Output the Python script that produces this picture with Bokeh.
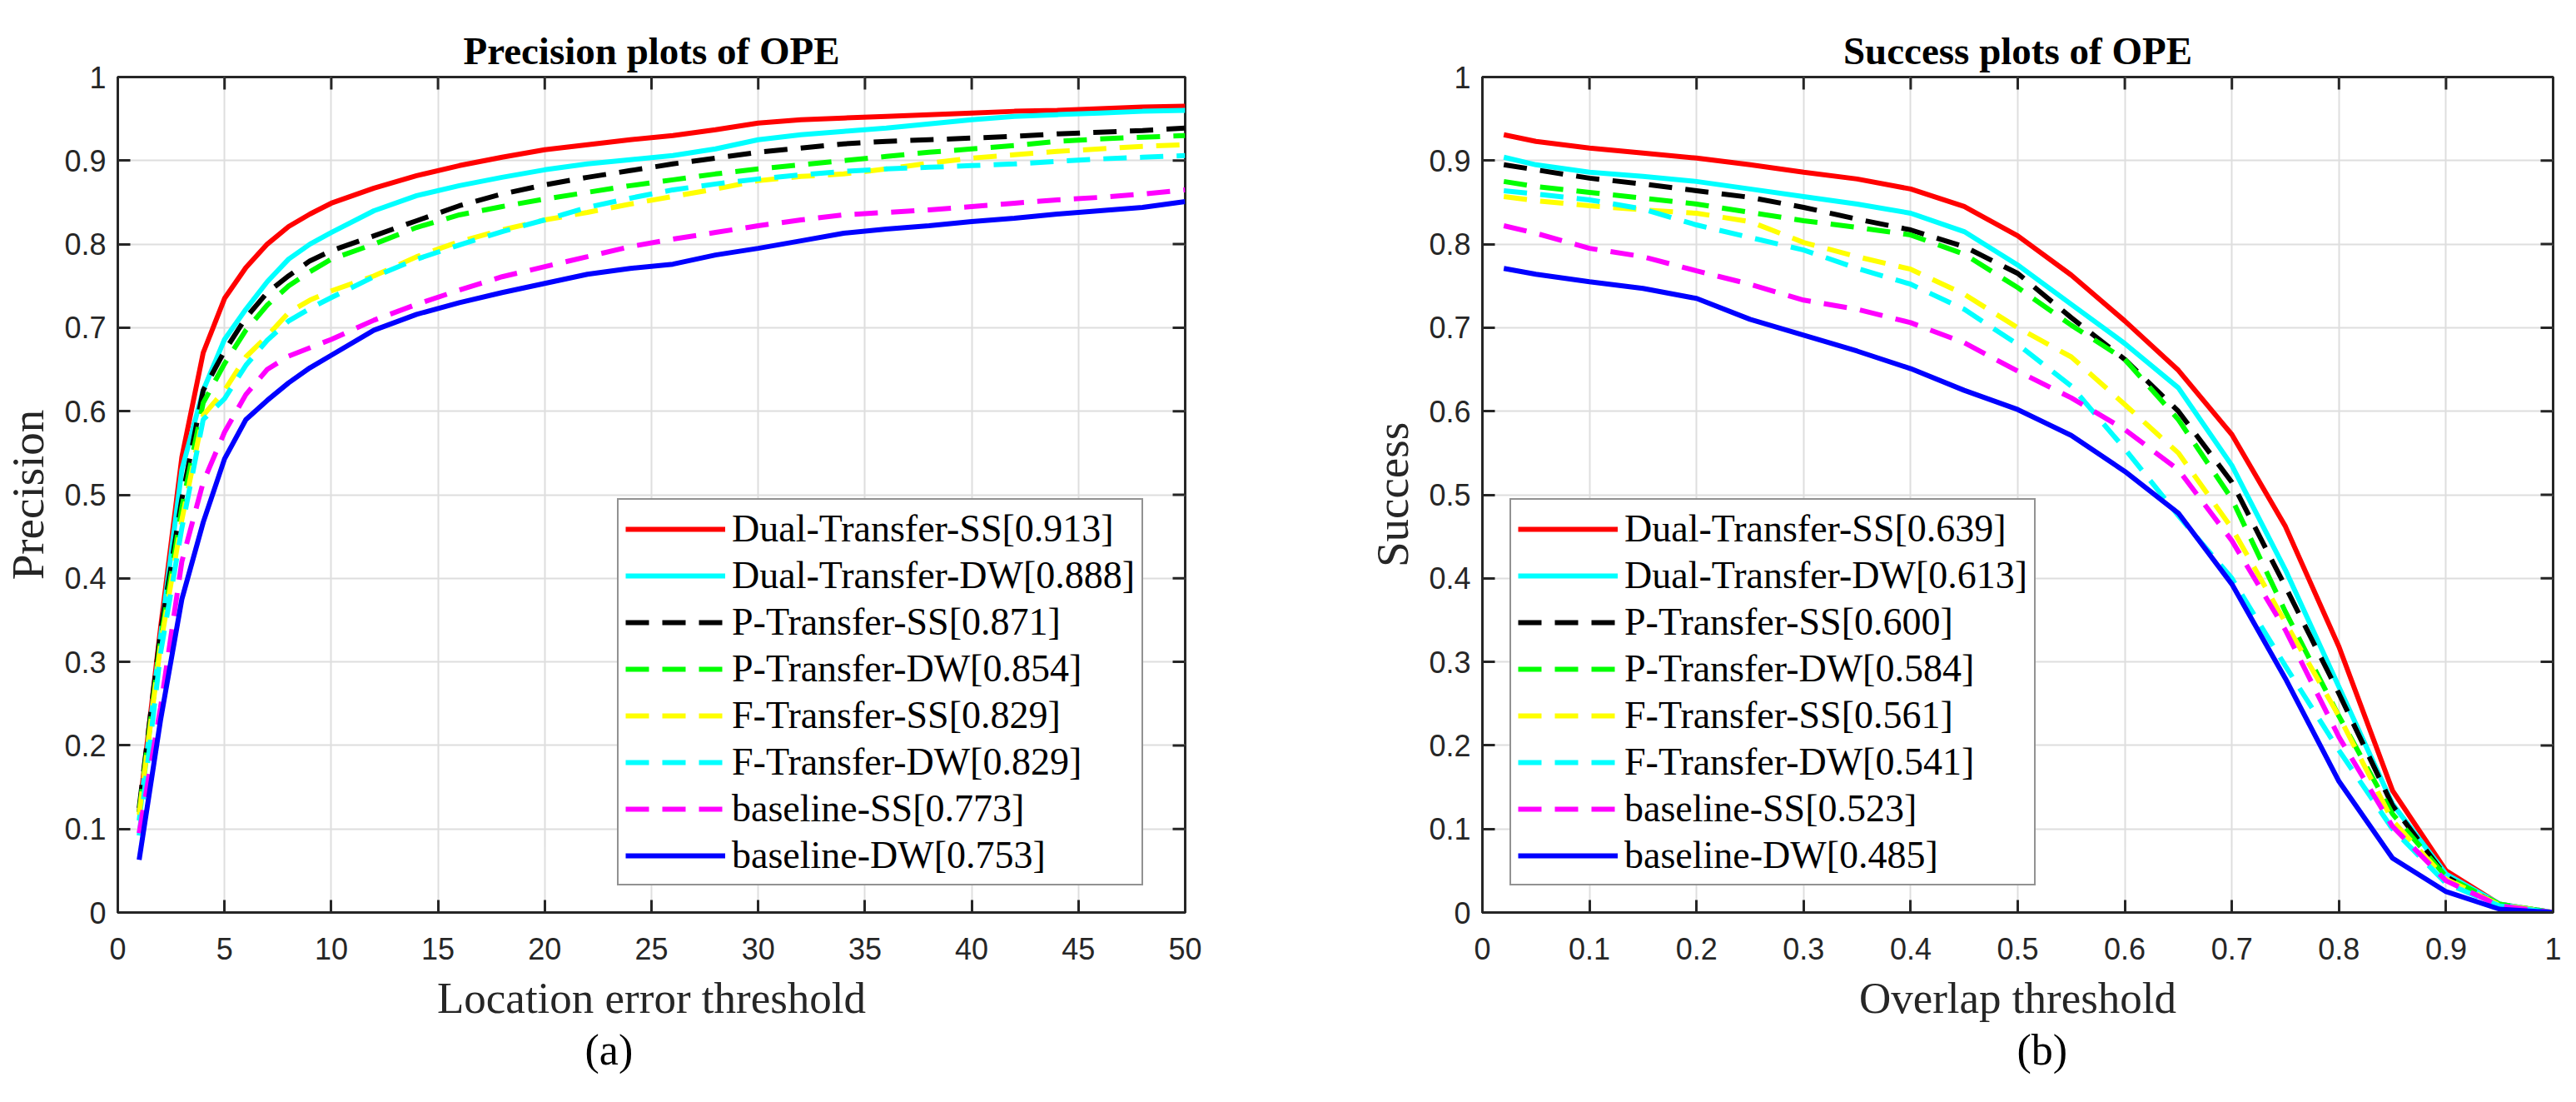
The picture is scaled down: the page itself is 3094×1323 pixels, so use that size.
from bokeh.plotting import figure
from bokeh.models import (FixedTicker, Legend, LegendItem, Title,
                          Range1d, CustomJSTickFormatter)
from bokeh.layouts import row
from bokeh.embed import file_html
from bokeh.resources import INLINE

# ---------------- data ----------------
labels_prec = ["Dual-Transfer-SS[0.913]", "Dual-Transfer-DW[0.888]", "P-Transfer-SS[0.871]",
               "P-Transfer-DW[0.854]", "F-Transfer-SS[0.829]", "F-Transfer-DW[0.829]",
               "baseline-SS[0.773]", "baseline-DW[0.753]"]
labels_succ = ["Dual-Transfer-SS[0.639]", "Dual-Transfer-DW[0.613]", "P-Transfer-SS[0.600]",
               "P-Transfer-DW[0.584]", "F-Transfer-SS[0.561]", "F-Transfer-DW[0.541]",
               "baseline-SS[0.523]", "baseline-DW[0.485]"]

prec_x = [1, 2, 3, 4, 5, 6, 7, 8, 9, 10, 12, 14, 16, 18, 20, 22, 24, 26, 28, 30,
          32, 34, 36, 38, 40, 42, 44, 46, 48, 50]
prec_dual_ss = [0.12, 0.34, 0.545, 0.67, 0.735, 0.772, 0.80, 0.821, 0.836, 0.849, 0.867, 0.882,
                0.894, 0.904, 0.913, 0.919, 0.925, 0.930, 0.937, 0.945, 0.949, 0.951, 0.953,
                0.955, 0.957, 0.959, 0.960, 0.962, 0.964, 0.965]
prec_dual_dw = [0.11, 0.33, 0.53, 0.625, 0.686, 0.722, 0.755, 0.782, 0.80, 0.814, 0.84, 0.858,
                0.870, 0.88, 0.889, 0.896, 0.901, 0.906, 0.914, 0.925, 0.931, 0.935, 0.939,
                0.944, 0.949, 0.953, 0.955, 0.957, 0.959, 0.960]
prec_p_ss = [0.125, 0.335, 0.495, 0.625, 0.672, 0.712, 0.742, 0.762, 0.78, 0.792, 0.81, 0.828,
             0.846, 0.86, 0.871, 0.88, 0.888, 0.896, 0.903, 0.91, 0.915, 0.92, 0.923, 0.925,
             0.927, 0.929, 0.932, 0.934, 0.936, 0.939]
prec_p_dw = [0.12, 0.325, 0.485, 0.61, 0.657, 0.697, 0.727, 0.75, 0.767, 0.782, 0.80, 0.82,
             0.835, 0.845, 0.854, 0.862, 0.870, 0.877, 0.884, 0.89, 0.895, 0.9, 0.905, 0.91,
             0.914, 0.918, 0.923, 0.926, 0.928, 0.93]
prec_f_ss = [0.117, 0.32, 0.47, 0.595, 0.625, 0.665, 0.69, 0.718, 0.733, 0.744, 0.762, 0.785,
             0.803, 0.817, 0.829, 0.838, 0.848, 0.857, 0.866, 0.876, 0.881, 0.884, 0.89, 0.897,
             0.903, 0.907, 0.911, 0.914, 0.917, 0.919]
prec_f_dw = [0.092, 0.31, 0.46, 0.59, 0.615, 0.655, 0.685, 0.708, 0.723, 0.736, 0.761, 0.782,
             0.799, 0.815, 0.829, 0.844, 0.855, 0.865, 0.872, 0.878, 0.883, 0.887, 0.89, 0.892,
             0.894, 0.896, 0.899, 0.902, 0.904, 0.906]
prec_base_ss = [0.095, 0.245, 0.42, 0.515, 0.575, 0.62, 0.65, 0.666, 0.676, 0.686, 0.709, 0.728,
                0.745, 0.761, 0.773, 0.785, 0.797, 0.806, 0.814, 0.822, 0.829, 0.835, 0.838,
                0.841, 0.845, 0.849, 0.853, 0.856, 0.86, 0.865]
prec_base_dw = [0.063, 0.23, 0.375, 0.467, 0.543, 0.59, 0.613, 0.634, 0.652, 0.667, 0.697, 0.716,
                0.73, 0.742, 0.753, 0.764, 0.771, 0.776, 0.787, 0.795, 0.804, 0.813, 0.818,
                0.822, 0.827, 0.831, 0.836, 0.840, 0.844, 0.851]

succ_x = [0.02, 0.05, 0.1, 0.15, 0.2, 0.25, 0.3, 0.35, 0.4, 0.45, 0.5, 0.55, 0.6, 0.65, 0.7,
          0.75, 0.8, 0.85, 0.9, 0.95, 1.0]
succ_dual_ss = [0.931, 0.923, 0.915, 0.909, 0.903, 0.895, 0.886, 0.878, 0.866, 0.845, 0.81,
                0.763, 0.708, 0.649, 0.572, 0.462, 0.318, 0.146, 0.05, 0.01, 0.0]
succ_dual_dw = [0.904, 0.895, 0.886, 0.881, 0.875, 0.866, 0.857, 0.848, 0.837, 0.815, 0.775,
                0.728, 0.681, 0.628, 0.535, 0.41, 0.27, 0.13, 0.046, 0.01, 0.0]
succ_p_ss = [0.895, 0.889, 0.879, 0.872, 0.864, 0.856, 0.844, 0.83, 0.817, 0.797, 0.765,
             0.712, 0.662, 0.60, 0.515, 0.39, 0.262, 0.128, 0.043, 0.008, 0.0]
succ_p_dw = [0.875, 0.869, 0.862, 0.855, 0.848, 0.838, 0.828, 0.82, 0.811, 0.788, 0.748,
             0.703, 0.662, 0.59, 0.495, 0.36, 0.235, 0.118, 0.043, 0.01, 0.0]
succ_f_ss = [0.857, 0.852, 0.846, 0.841, 0.837, 0.827, 0.802, 0.785, 0.77, 0.74, 0.70,
             0.665, 0.608, 0.55, 0.46, 0.347, 0.235, 0.11, 0.04, 0.009, 0.0]
succ_f_dw = [0.864, 0.86, 0.853, 0.842, 0.823, 0.808, 0.793, 0.771, 0.752, 0.722, 0.68,
             0.63, 0.555, 0.475, 0.40, 0.295, 0.194, 0.10, 0.035, 0.008, 0.0]
succ_base_ss = [0.822, 0.813, 0.795, 0.785, 0.768, 0.752, 0.733, 0.722, 0.706, 0.682, 0.648,
                0.616, 0.578, 0.53, 0.445, 0.338, 0.21, 0.103, 0.038, 0.008, 0.0]
succ_base_dw = [0.771, 0.764, 0.755, 0.747, 0.735, 0.71, 0.691, 0.672, 0.651, 0.625, 0.602,
                0.571, 0.528, 0.478, 0.393, 0.28, 0.157, 0.065, 0.025, 0.004, 0.0]

prec_series = [prec_dual_ss, prec_dual_dw, prec_p_ss, prec_p_dw, prec_f_ss, prec_f_dw,
               prec_base_ss, prec_base_dw]
succ_series = [succ_dual_ss, succ_dual_dw, succ_p_ss, succ_p_dw, succ_f_ss, succ_f_dw,
               succ_base_ss, succ_base_dw]

colors = ["#FF0000", "#00FFFF", "#000000", "#00FF00", "#FFFF00", "#00FFFF", "#FF00FF", "#0000FF"]
dashes = ["solid", "solid", "28 16", "28 16", "28 16", "28 16", "28 16", "solid"]

prec_xticks = [0, 5, 10, 15, 20, 25, 30, 35, 40, 45, 50]
unit_ticks = [0, 0.1, 0.2, 0.3, 0.4, 0.5, 0.6, 0.7, 0.8, 0.9, 1]

AX = "#262626"
SANS = "Liberation Sans"
SERIF = "Liberation Serif"
FIG_W, FIG_H = 1539, 1307
B_TOP, B_BOTTOM = 92, 212
TICK_LEN = 15

fmt = CustomJSTickFormatter(code="return String(Math.round(tick*10)/10);")


def style_axis(ax):
    ax.axis_line_color = AX
    ax.axis_line_width = 3
    ax.major_tick_line_color = AX
    ax.major_tick_line_width = 3
    ax.major_tick_in = TICK_LEN
    ax.major_tick_out = 0
    ax.minor_tick_line_color = None
    ax.major_label_text_font = SANS
    ax.major_label_text_font_size = "36px"
    ax.major_label_text_color = AX


def make_plot(title, xlabel, ylabel, caption, cap_off, xs, series, labels, xr, xticks,
              xfmt, b_left, b_right, leg_loc):
    p = figure(width=FIG_W, height=FIG_H, output_backend="svg", toolbar_location=None,
               x_range=Range1d(*xr), y_range=Range1d(0, 1),
               min_border_left=b_left, min_border_right=b_right,
               min_border_top=B_TOP, min_border_bottom=B_BOTTOM)
    p.outline_line_color = AX
    p.outline_line_width = 3
    p.background_fill_color = "white"
    p.border_fill_color = "white"

    p.title.text = title
    p.title.text_font = SERIF
    p.title.text_font_style = "bold"
    p.title.text_font_size = "47px"
    p.title.align = "center"
    p.title.text_color = "black"
    p.title.standoff = 12

    xa = p.xaxis[0]
    ya = p.yaxis[0]
    xa.ticker = FixedTicker(ticks=xticks)
    ya.ticker = FixedTicker(ticks=unit_ticks)
    if xfmt is not None:
        xa.formatter = xfmt
    ya.formatter = fmt
    style_axis(xa)
    style_axis(ya)
    xa.major_label_standoff = 30
    ya.major_label_standoff = 14
    xa.axis_label = xlabel
    ya.axis_label = ylabel
    for a, size in ((xa, "53px"), (ya, "55px")):
        a.axis_label_text_font = SERIF
        a.axis_label_text_font_style = "normal"
        a.axis_label_text_font_size = size
        a.axis_label_text_color = AX
    xa.axis_label_standoff = 14
    ya.axis_label_standoff = 10

    p.xgrid.ticker = FixedTicker(ticks=xticks)
    p.ygrid.ticker = FixedTicker(ticks=unit_ticks)
    for g in (p.xgrid[0], p.ygrid[0]):
        g.grid_line_color = "#dedede"
        g.grid_line_width = 2

    items = []
    for ys, c, d, lab in zip(series, colors, dashes, labels):
        r = p.line(xs, ys, line_color=c, line_width=6, line_dash=d)
        items.append(LegendItem(label=lab, renderers=[r]))

    # inward ticks on the top and right edges of the box (matlab style)
    frame_w = FIG_W - b_left - b_right
    frame_h = FIG_H - B_TOP - B_BOTTOM
    dy = TICK_LEN / frame_h * 1.0
    dx = TICK_LEN / frame_w * (xr[1] - xr[0])
    p.segment(x0=xticks, y0=[1.0] * len(xticks), x1=xticks, y1=[1.0 - dy] * len(xticks),
              line_color=AX, line_width=3)
    p.segment(x0=[xr[1]] * len(unit_ticks), y0=unit_ticks, x1=[xr[1] - dx] * len(unit_ticks),
              y1=unit_ticks, line_color=AX, line_width=3)

    leg = Legend(items=items, location=leg_loc)
    leg.label_text_font = SERIF
    leg.label_text_font_size = "46px"
    leg.label_text_color = "black"
    leg.glyph_width = 120
    leg.glyph_height = 40
    leg.label_height = 40
    leg.label_standoff = 8
    leg.spacing = 3
    leg.padding = 8
    leg.margin = 0
    leg.border_line_color = AX
    leg.border_line_width = 2
    leg.background_fill_color = "white"
    leg.background_fill_alpha = 1
    p.add_layout(leg)

    cap = Title(text=caption, align="left", offset=cap_off, text_font=SERIF,
                text_font_style="normal", text_font_size="52px", text_color="black",
                standoff=0)
    p.add_layout(cap, "below")
    return p


p1 = make_plot("Precision plots of OPE", "Location error threshold", "Precision", "(a)", 561,
               prec_x, prec_series, labels_prec, (0, 50), prec_xticks, None, 141, 116, (600, 32))
p2 = make_plot("Success plots of OPE", "Overlap threshold", "Success", "(b)", 642,
               succ_x, succ_series, labels_succ, (0, 1), unit_ticks, fmt, 241, 12, (33, 32))

layout = row(p1, p2)
open("out.html", "w").write(file_html(layout, INLINE))
